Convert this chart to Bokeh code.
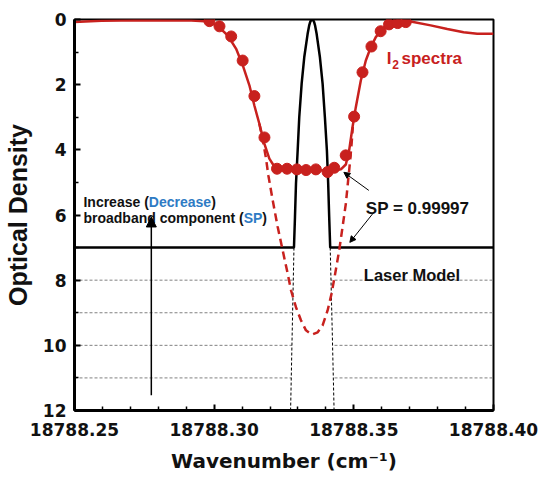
from bokeh.plotting import figure
from bokeh.models import Range1d, FixedTicker, PrintfTickFormatter, Label, Arrow, NormalHead
from bokeh.embed import file_html
from bokeh.resources import INLINE

# ---------------- data ----------------
x_major = [18788.25, 18788.30, 18788.35, 18788.40]
x_minor = [18788.26, 18788.27, 18788.28, 18788.29, 18788.31, 18788.32, 18788.33,
           18788.34, 18788.36, 18788.37, 18788.38, 18788.39]
y_major = [0, 2, 4, 6, 8, 10, 12]
y_minor = [1, 3, 5, 7, 9, 11]

# I2 spectrum fit (solid red)
fit_x = [18788.25000, 18788.25964, 18788.27393, 18788.29179, 18788.29821, 18788.30179,
         18788.30489, 18788.30786, 18788.31025, 18788.31261, 18788.31439, 18788.31618,
         18788.31796, 18788.31975, 18788.32132, 18788.32286, 18788.32750, 18788.33464,
         18788.34179, 18788.34536, 18788.34714, 18788.34832, 18788.34954, 18788.35071,
         18788.35250, 18788.35429, 18788.35607, 18788.35786, 18788.36025, 18788.36261,
         18788.36561, 18788.37036, 18788.37750, 18788.38346, 18788.38929, 18788.39418,
         18788.40000]
fit_y = [0.08, 0.04, 0.02, 0.03, 0.06, 0.24, 0.49, 0.90, 1.41, 2.02, 2.64, 3.20, 3.81,
         4.27, 4.48, 4.58, 4.60, 4.62, 4.64, 4.60, 4.45, 4.02, 3.30, 2.69, 1.87, 1.26,
         0.85, 0.54, 0.29, 0.13, 0.03, 0.06, 0.18, 0.29, 0.39, 0.44, 0.44]

# unsaturated absorption profile (dashed red)
dash_x = [18788.31618, 18788.31761, 18788.31857, 18788.31939, 18788.32096, 18788.32275,
          18788.32454, 18788.32632, 18788.32750, 18788.32929, 18788.33107, 18788.33286,
          18788.33500, 18788.33704, 18788.33882, 18788.34061, 18788.34204, 18788.34332,
          18788.34475, 18788.34596, 18788.34714, 18788.34796, 18788.34868, 18788.34921,
          18788.34964]
dash_y = [3.20, 3.80, 4.27, 4.78, 5.55, 6.37, 7.09, 7.80, 8.31, 8.83, 9.23, 9.54, 9.67,
          9.60, 9.39, 8.93, 8.41, 7.80, 7.09, 6.37, 5.65, 4.94, 4.33, 3.80, 3.30]

# measured I2 spectrum (red dots)
dots_x = [18788.29830, 18788.30190, 18788.30610, 18788.31020, 18788.31440, 18788.31800,
          18788.32250, 18788.32610, 18788.32960, 18788.33290, 18788.33640, 18788.34060,
          18788.34300, 18788.34710, 18788.35010, 18788.35310, 18788.35630, 18788.35960,
          18788.36260, 18788.36570, 18788.36860]
dots_y = [0.05, 0.21, 0.52, 1.26, 2.35, 3.62, 4.58, 4.58, 4.60, 4.62, 4.60, 4.68, 4.55,
          4.17, 2.98, 1.62, 0.83, 0.36, 0.15, 0.11, 0.08]

# laser model (solid black) with broadband floor at 7
laser_x = [18788.25000, 18788.32857, 18788.32893, 18788.32929, 18788.32989, 18788.33046,
           18788.33132, 18788.33225, 18788.33346, 18788.33400, 18788.33436, 18788.33471,
           18788.33507, 18788.33543, 18788.33579, 18788.33614, 18788.33668, 18788.33786,
           18788.33882, 18788.33964, 18788.34036, 18788.34082, 18788.34118, 18788.34154,
           18788.40000]
laser_y = [7.0, 7.0, 6.06, 5.04, 4.02, 3.0, 1.97, 1.16, 0.44, 0.19, 0.08, 0.02, 0.0, 0.02,
           0.08, 0.19, 0.44, 1.16, 1.97, 3.0, 4.02, 5.04, 6.06, 7.0, 7.0]

# laser tails below the floor (thin dashed black)
tail_left_x = [18788.32857, 18788.32796, 18788.32736]
tail_right_x = [18788.34154, 18788.34225, 18788.34293]
tail_y = [7.0, 9.5, 12.0]

grid_levels = [8, 9, 10, 11]

RED = "#c8211e"
BLUE = "#2e7bc4"

p = figure(width=540, height=482, output_backend="svg", toolbar_location=None,
           x_range=Range1d(18788.25, 18788.40), y_range=Range1d(12, 0),
           min_border_left=73, min_border_right=47, min_border_top=19, min_border_bottom=72)
p.background_fill_color = "white"
p.border_fill_color = "white"
p.xgrid.visible = False
p.ygrid.visible = False
p.outline_line_color = "black"
p.outline_line_width = 2

for ax in (p.xaxis[0], p.yaxis[0]):
    ax.axis_line_width = 3
    ax.major_tick_in = 6
    ax.major_tick_out = 0
    ax.minor_tick_in = 4
    ax.minor_tick_out = 0
    ax.major_tick_line_width = 2
    ax.minor_tick_line_width = 1.5
    ax.major_label_text_font = "DejaVu Sans"
    ax.major_label_text_font_style = "bold"
    ax.major_label_text_font_size = "17px"
    ax.major_label_text_color = "#111111"
    ax.axis_label_text_font_style = "bold"
    ax.axis_label_text_color = "#111111"

p.xaxis.ticker = FixedTicker(ticks=x_major, minor_ticks=x_minor)
p.xaxis.formatter = PrintfTickFormatter(format="%.2f")
p.yaxis.ticker = FixedTicker(ticks=y_major, minor_ticks=y_minor)
p.xaxis.major_label_standoff = 12
p.yaxis.major_label_standoff = 8
p.xaxis.axis_label = "Wavenumber (cm⁻¹)"
p.xaxis.axis_label_text_font = "DejaVu Sans"
p.xaxis.axis_label_text_font_size = "20px"
p.xaxis.axis_label_standoff = 10
p.yaxis.axis_label = "Optical Density"
p.yaxis.axis_label_text_font = "Liberation Sans"
p.yaxis.axis_label_text_font_size = "25px"
p.yaxis.axis_label_standoff = 8

# gridlines below floor
x0s = [x_major[0]] * len(grid_levels)
x1s = [x_major[-1]] * len(grid_levels)
p.segment(x0=x0s, y0=grid_levels, x1=x1s, y1=grid_levels, line_color="#808080",
          line_width=1, line_dash="3 2")

# white laser-tail region covering gridlines
patch_x = tail_left_x + tail_right_x[::-1]
patch_y = tail_y + tail_y[::-1]
p.patch(patch_x, patch_y, fill_color="white", line_color=None)

p.line(tail_left_x, tail_y, line_color="black", line_width=1, line_dash="3 2")
p.line(tail_right_x, tail_y, line_color="black", line_width=1, line_dash="3 2")
p.line(laser_x, laser_y, line_color="black", line_width=2.5)

p.line(dash_x, dash_y, line_color=RED, line_width=2.5, line_dash="8 5")
p.line(fit_x, fit_y, line_color=RED, line_width=2.5)
p.scatter(dots_x, dots_y, size=11, fill_color=RED, line_color=RED)

def lab(text, x, y, size, color="#111111", xoff=0, font="Liberation Sans"):
    p.add_layout(Label(x=x, y=y, x_offset=xoff, text=text, text_font=font,
                       text_font_style="bold", text_font_size=size, text_color=color,
                       text_baseline="alphabetic"))

# I2 spectra label
lab("I", 18788.36179, 1.20, "17px", RED)
lab("2", 18788.36179, 1.38, "12px", RED, xoff=5.5)
lab("spectra", 18788.36179, 1.20, "17px", RED, xoff=14.7)

# increase / decrease text
tx = 18788.2532
lab("Increase (", tx, 5.60, "14px")
lab("Decrease", tx, 5.60, "14px", BLUE, xoff=65.4)
lab(")", tx, 5.60, "14px", xoff=127.7)
lab("broadband component (", tx, 6.08, "14px")
lab("SP", tx, 6.08, "14px", BLUE, xoff=160.2)
lab(")", tx, 6.08, "14px", xoff=178.9)

lab("SP = 0.99997", 18788.35429, 5.81, "17px")
lab("Laser Model", 18788.35357, 7.83, "16.5px")

p.add_layout(Arrow(end=NormalHead(size=6, fill_color="black", line_color="black"),
                   x_start=18788.35536, y_start=5.245, x_end=18788.34643, y_end=4.69,
                   line_width=1, line_color="black"))
p.add_layout(Arrow(end=NormalHead(size=6, fill_color="black", line_color="black"),
                   x_start=18788.35714, y_start=5.92, x_end=18788.34857, y_end=6.84,
                   line_width=1, line_color="black"))
p.add_layout(Arrow(end=NormalHead(size=10, fill_color="black", line_color="black"),
                   x_start=18788.2775, y_start=11.53, x_end=18788.2775, y_end=6.06,
                   line_width=1.5, line_color="black"))

open("out.html", "w").write(file_html(p, INLINE))
